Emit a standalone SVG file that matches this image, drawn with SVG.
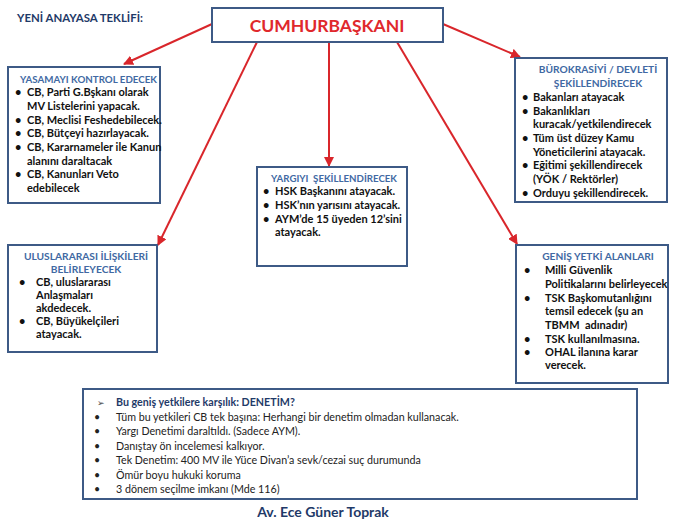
<svg xmlns="http://www.w3.org/2000/svg" width="700" height="530" viewBox="0 0 700 530">
<defs>
<marker id="ah" viewBox="0 0 10 10" refX="9" refY="5" markerWidth="5" markerHeight="5" orient="auto" markerUnits="strokeWidth">
<path d="M0,0 L10,5 L0,10 z" fill="#d9262b"/>
</marker>
<style>
.box{fill:#fff;stroke:#3d5a86;stroke-width:2}
.ttl{font-family:Lato,"Liberation Sans",sans-serif;font-weight:bold;font-size:10.2px;fill:#4169a3}
.it{font-family:Lato,"Liberation Sans",sans-serif;font-weight:bold;font-size:11px;fill:#111}
.bt{font-family:Lato,"Liberation Sans",sans-serif;font-size:10.7px;fill:#222}
.con{stroke:#d9262b;stroke-width:2;fill:none;marker-end:url(#ah)}
</style>
</defs>
<rect width="700" height="530" fill="#fff"/>
<text x="17" y="22" textLength="126" lengthAdjust="spacingAndGlyphs" font-family="Lato,'Liberation Sans',sans-serif" font-weight="bold" font-size="12" fill="#1f3a68">YENİ ANAYASA TEKLİFİ:</text>

<g id="connectors">
<line class="con" x1="212" y1="24" x2="124" y2="64"/>
<line class="con" x1="257" y1="42" x2="158" y2="245"/>
<line class="con" x1="329" y1="42" x2="329" y2="166"/>
<line class="con" x1="397" y1="42" x2="517" y2="244"/>
<line class="con" x1="443" y1="24" x2="520" y2="57"/>
</g>

<g id="cb">
<rect class="box" x="212" y="8" width="231" height="34"/>
<text x="327" y="32" text-anchor="middle" font-family="Lato,'Liberation Sans',sans-serif" font-weight="bold" font-size="17.5" fill="#e0282c">CUMHURBAŞKANI</text>
</g>

<g id="yasama">
<rect class="box" x="8" y="67" width="152" height="136"/>
<text class="ttl" x="20" y="83" textLength="137" lengthAdjust="spacingAndGlyphs">YASAMAYI KONTROL EDECEK</text>
<g class="it">
<text x="15" y="96">•</text><text x="27" y="96">CB, Parti G.Bşkanı olarak</text>
<text x="27" y="110">MV Listelerini yapacak.</text>
<text x="15" y="124">•</text><text x="27" y="124">CB, Meclisi Feshedebilecek.</text>
<text x="15" y="137">•</text><text x="27" y="137">CB, Bütçeyi hazırlayacak.</text>
<text x="15" y="151">•</text><text x="27" y="151">CB, Kararnameler ile Kanun</text>
<text x="27" y="165">alanını daraltacak</text>
<text x="15" y="178">•</text><text x="27" y="178">CB, Kanunları Veto</text>
<text x="27" y="192">edebilecek</text>
</g>
</g>

<g id="burokrasi">
<rect class="box" x="515" y="58" width="152" height="144"/>
<text class="ttl" x="598" y="73" text-anchor="middle">BÜROKRASİYİ / DEVLETİ</text>
<text class="ttl" x="598" y="87" text-anchor="middle">ŞEKİLLENDİRECEK</text>
<g class="it">
<text x="522" y="101">•</text><text x="533" y="101">Bakanları atayacak</text>
<text x="522" y="115">•</text><text x="533" y="115">Bakanlıkları</text>
<text x="533" y="128">kuracak/yetkilendirecek</text>
<text x="522" y="142">•</text><text x="533" y="142">Tüm üst düzey Kamu</text>
<text x="533" y="156">Yöneticilerini atayacak.</text>
<text x="522" y="169">•</text><text x="533" y="169">Eğitimi şekillendirecek</text>
<text x="533" y="183">(YÖK / Rektörler)</text>
<text x="522" y="197">•</text><text x="533" y="197">Orduyu şekillendirecek.</text>
</g>
</g>

<g id="yargi">
<rect class="box" x="257" y="167" width="150" height="99"/>
<text class="ttl" x="271" y="182" textLength="126" lengthAdjust="spacingAndGlyphs" xml:space="preserve">YARGIYI  ŞEKİLLENDİRECEK</text>
<g class="it">
<text x="263" y="195">•</text><text x="275" y="195">HSK Başkanını atayacak.</text>
<text x="263" y="209">•</text><text x="275" y="209">HSK’nın yarısını atayacak.</text>
<text x="263" y="223">•</text><text x="275" y="223">AYM’de 15 üyeden 12’sini</text>
<text x="275" y="236">atayacak.</text>
</g>
</g>

<g id="uluslararasi">
<rect class="box" x="8" y="245" width="149" height="107"/>
<text class="ttl" x="86" y="260" text-anchor="middle">ULUSLARARASI İLİŞKİLERİ</text>
<text class="ttl" x="86" y="273" text-anchor="middle">BELİRLEYECEK</text>
<g class="it">
<text x="19" y="286">•</text><text x="36" y="286">CB, uluslararası</text>
<text x="36" y="299">Anlaşmaları</text>
<text x="36" y="312">akdedecek.</text>
<text x="19" y="325">•</text><text x="36" y="325">CB, Büyükelçileri</text>
<text x="36" y="338">atayacak.</text>
</g>
</g>

<g id="genis">
<rect class="box" x="516" y="245" width="152" height="138"/>
<text class="ttl" x="598" y="260" text-anchor="middle">GENİŞ YETKİ ALANLARI</text>
<g class="it">
<text x="524" y="274">•</text><text x="545" y="274">Milli Güvenlik</text>
<text x="545" y="288">Politikalarını belirleyecek</text>
<text x="524" y="302">•</text><text x="545" y="302">TSK Başkomutanlığını</text>
<text x="545" y="315">temsil edecek (şu an</text>
<text x="545" y="329" xml:space="preserve">TBMM  adınadır)</text>
<text x="524" y="343">•</text><text x="545" y="343">TSK kullanılmasına.</text>
<text x="524" y="356">•</text><text x="545" y="356">OHAL ilanına karar</text>
<text x="545" y="369">verecek.</text>
</g>
</g>

<g id="denetim">
<rect class="box" x="83" y="389" width="554" height="110"/>
<text x="97" y="406" font-family="'DejaVu Sans',sans-serif" font-size="9" fill="#444">➢</text>
<text x="116" y="406" font-family="Lato,'Liberation Sans',sans-serif" font-weight="bold" font-size="10.7" fill="#1f3a68">Bu geniş yetkilere karşılık: DENETİM?</text>
<g class="bt">
<text x="94" y="421">•</text><text x="116" y="421">Tüm bu yetkileri CB tek başına: Herhangi bir denetim olmadan kullanacak.</text>
<text x="94" y="435">•</text><text x="116" y="435">Yargı Denetimi daraltıldı. (Sadece AYM).</text>
<text x="94" y="450">•</text><text x="116" y="450">Danıştay ön incelemesi kalkıyor.</text>
<text x="94" y="464">•</text><text x="116" y="464">Tek Denetim: 400 MV ile Yüce Divan’a sevk/cezai suç durumunda</text>
<text x="94" y="479">•</text><text x="116" y="479">Ömür boyu hukuki koruma</text>
<text x="94" y="493">•</text><text x="116" y="493">3 dönem seçilme imkanı (Mde 116)</text>
</g>
</g>

<text x="323" y="517" text-anchor="middle" font-family="Lato,'Liberation Sans',sans-serif" font-weight="bold" font-size="14" fill="#1f3a68">Av. Ece Güner Toprak</text>
</svg>
